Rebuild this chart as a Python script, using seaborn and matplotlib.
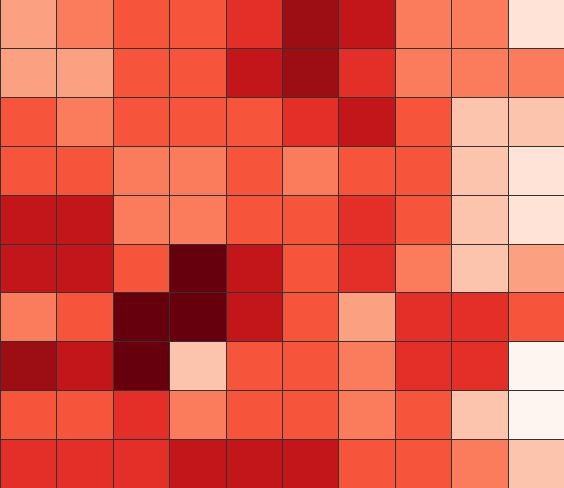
import numpy as np
import matplotlib
matplotlib.use("Agg")
import matplotlib.pyplot as plt
import seaborn as sns

# Heatmap levels (0 = lightest, 9 = darkest)
row0 = [3, 4, 5, 5, 6, 8, 7, 4, 4, 1]
row1 = [3, 3, 5, 5, 7, 8, 6, 4, 4, 4]
row2 = [5, 4, 5, 5, 5, 6, 7, 5, 2, 2]
row3 = [5, 5, 4, 4, 5, 4, 5, 5, 2, 1]
row4 = [7, 7, 4, 4, 5, 5, 6, 5, 2, 1]
row5 = [7, 7, 5, 9, 7, 5, 6, 4, 2, 3]
row6 = [4, 5, 9, 9, 7, 5, 3, 6, 6, 5]
row7 = [8, 7, 9, 2, 5, 5, 4, 6, 6, 0]
row8 = [5, 5, 6, 4, 5, 5, 4, 5, 2, 0]
row9 = [6, 6, 6, 7, 7, 7, 5, 5, 4, 2]

data = np.array([row0, row1, row2, row3, row4, row5, row6, row7, row8, row9])

fig = plt.figure(figsize=(5.64, 4.89), dpi=100)
ax = fig.add_axes([0, 0, 1, 1])
sns.heatmap(data, cmap="Reds", vmin=0, vmax=9, cbar=False,
            linewidths=0.7, linecolor="#333333", ax=ax)
ax.set_xticks([])
ax.set_yticks([])
ax.set_xlabel("")
ax.set_ylabel("")
fig.savefig("out.png", dpi=100)
plt.close(fig)
